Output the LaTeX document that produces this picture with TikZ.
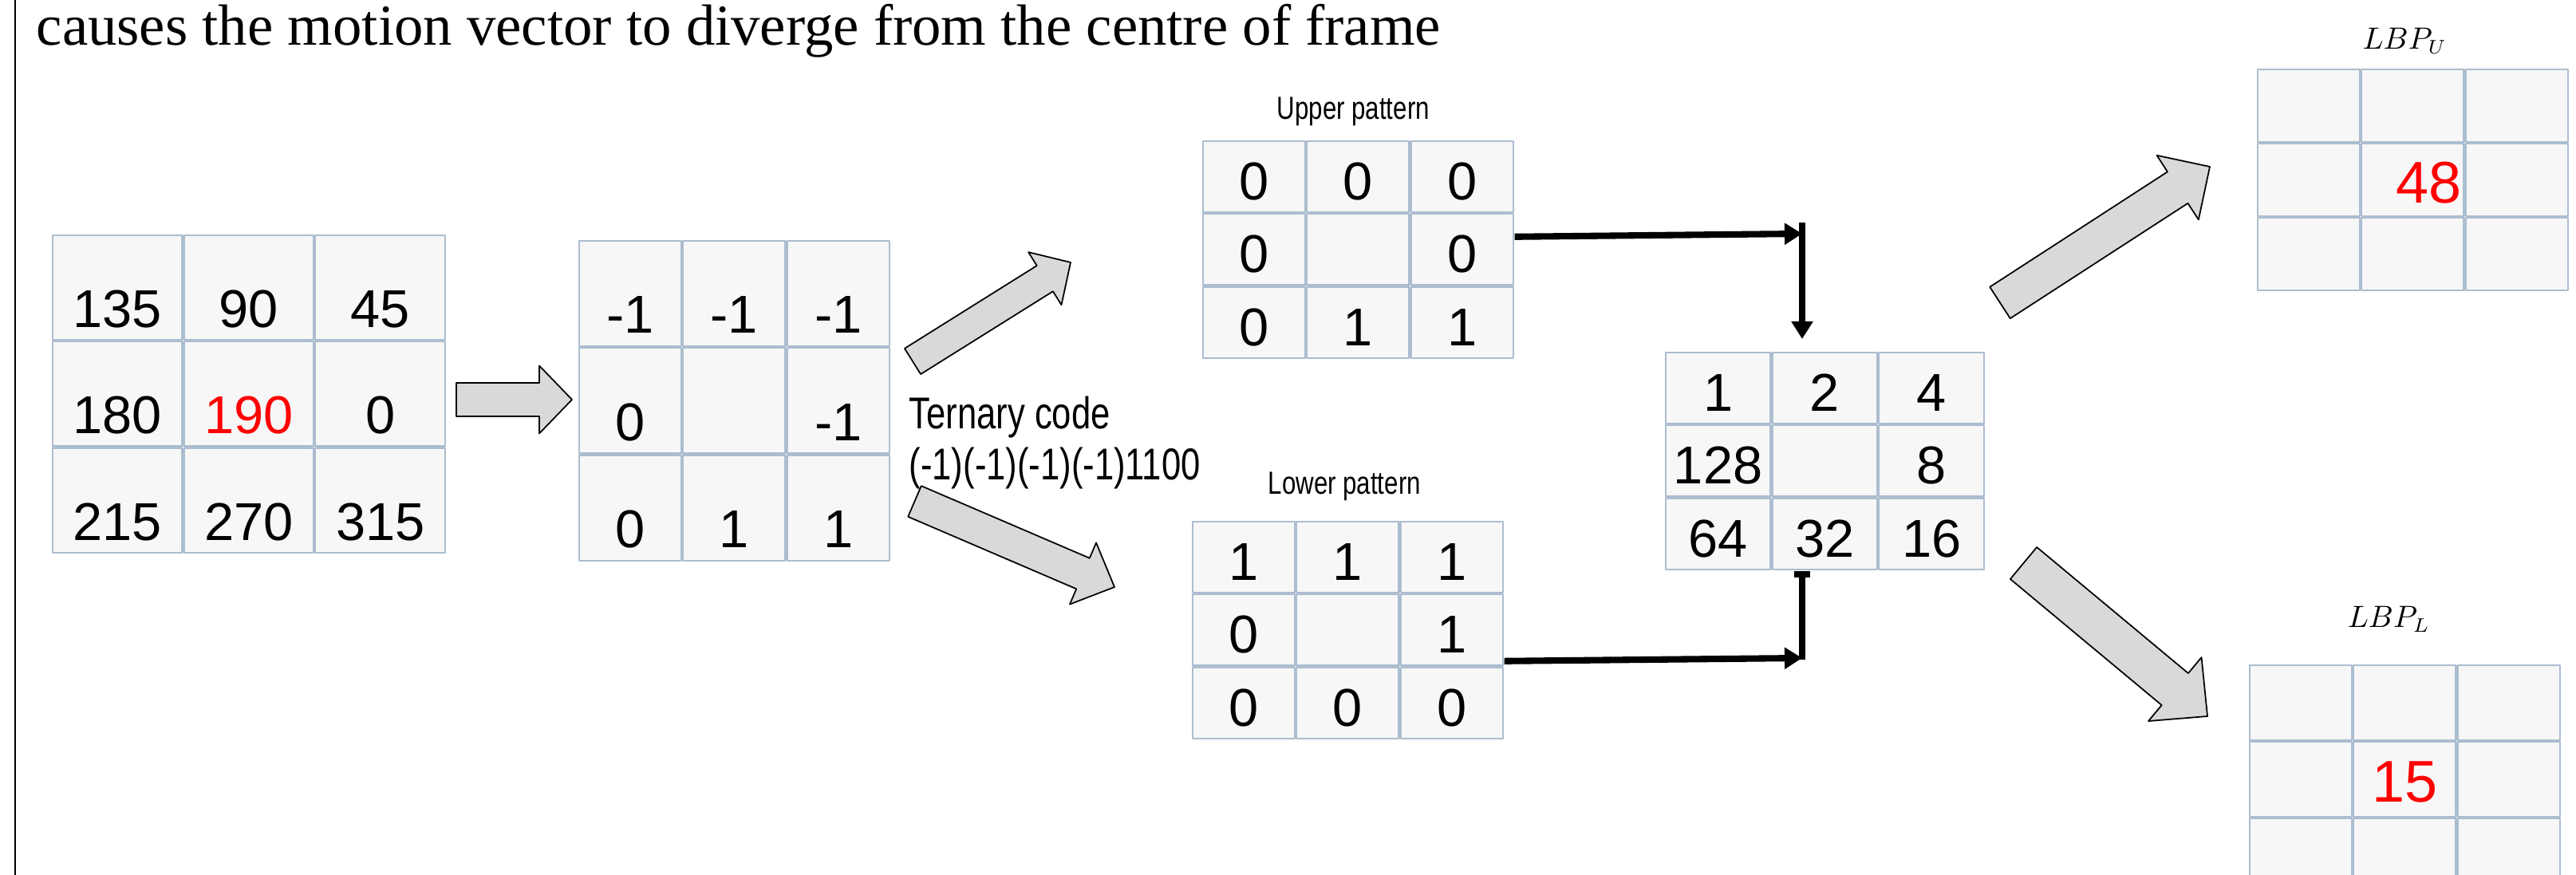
\documentclass[tikz,border=0pt]{standalone}
\usepackage{fontspec}
\setmainfont{Liberation Serif}
\newfontfamily\cellfont{Liberation Sans}
\newfontfamily\narrowfont[FakeStretch=0.78]{Liberation Sans}
\usepackage{tikz}
\usetikzlibrary{calc, matrix, arrows.meta}
\usepackage{xcolor}
\definecolor{gridline}{RGB}{172,189,208}
\definecolor{cellfill}{RGB}{247,247,247}
\definecolor{arrowfill}{RGB}{217,217,217}

% fat arrow: tail #1, tip #2, shaft half width #3, head half width #4, head length #5
\newcommand{\blockarrow}[5]{%
  \coordinate (hb) at ($(#2)!#5!(#1)$);
  \draw[blockarr] ($(#1)!#3!90:(#2)$) -- ($(hb)!#3!-90:(#1)$) -- ($(hb)!#4!-90:(#1)$) -- (#2)
    -- ($(hb)!#4!90:(#1)$) -- ($(hb)!#3!90:(#1)$) -- ($(#1)!#3!-90:(#2)$) -- cycle;
}

\begin{document}
\begin{tikzpicture}[line join=round,
    valcell/.style={draw=gridline, fill=cellfill, line width=0.6pt, inner sep=0pt, outer sep=0pt,
                    font=\cellfont\fontsize{19}{22}\selectfont, text depth=0pt, text height=0.58cm},
    valgrid/.style={matrix of nodes, nodes in empty cells, column sep=0pt, row sep=0pt,
                    inner sep=0pt, anchor=north west},
    blockarr/.style={draw=black, fill=arrowfill, line width=0.5pt},
    link/.style={line width=2.3pt, -{Triangle[length=0.22cm, width=0.26cm]}},
    lbl/.style={font=\narrowfont\fontsize{11.4}{13}\selectfont, inner sep=0pt},
    tlbl/.style={font=\narrowfont\fontsize{15.9}{19}\selectfont, inner sep=0pt}]

    % page 3229 x 1097 px, 1 cm = 100 px
    \useasboundingbox (0,0) rectangle (32.29,10.97);
    \clip (0,0) rectangle (32.29,10.97);

    % frame edge on the left and the cut-off sentence on top
    \draw[line width=0.45pt] (0.19,0) -- (0.19,10.97);
    \node[anchor=base west, font=\fontsize{20.7}{24}\selectfont, inner sep=0pt] (title) at (0.45,10.40)
        {causes the motion vector to diverge from the centre of frame};

    % motion vector angles
    \matrix (ang) [valgrid, nodes={valcell, minimum width=1.627cm, minimum height=1.313cm, text height=1.0cm}] at (0.64,8.04) {
        135 & 90 & 45 \\
        180 & |[text=red]| 190 & 0 \\
        215 & 270 & 315 \\
    };

    % ternary values
    \matrix (tern) [valgrid, nodes={valcell, minimum width=1.283cm, minimum height=1.323cm, text height=1.0cm}] at (7.24,7.97) {
        -1 & -1 & -1 \\
        0 &  & -1 \\
        0 & 1 & 1 \\
    };
    \node[tlbl, anchor=base west] (tcode) at (11.39,5.59) {Ternary code};
    \node[tlbl, anchor=base west] (tbits) at (11.39,4.95) {(-1)(-1)(-1)(-1)1100};

    % upper and lower patterns
    \matrix (upper) [valgrid, nodes={valcell, minimum width=1.283cm, minimum height=0.893cm}] at (15.06,9.22) {
        0 & 0 & 0 \\
        0 &  & 0 \\
        0 & 1 & 1 \\
    };
    \node[lbl, anchor=base] (uplbl) at ([xshift=-0.06cm, yshift=0.25cm]upper.north) {Upper pattern};

    \matrix (lower) [valgrid, nodes={valcell, minimum width=1.283cm, minimum height=0.893cm}] at (14.93,4.45) {
        1 & 1 & 1 \\
        0 &  & 1 \\
        0 & 0 & 0 \\
    };
    \node[lbl, anchor=base] (lowlbl) at ([xshift=-0.04cm, yshift=0.32cm]lower.north) {Lower pattern};

    % weights
    \matrix (weight) [valgrid, nodes={valcell, minimum width=1.317cm, minimum height=0.893cm}] at (20.86,6.57) {
        1 & 2 & 4 \\
        128 &  & 8 \\
        64 & 32 & 16 \\
    };

    % resulting codes
    \matrix (lbpu) [valgrid, nodes={valcell, minimum width=1.283cm, minimum height=0.91cm}] at (28.28,10.12) {
         &  &  \\
         & |[text=red, font=\cellfont\fontsize{21}{24}\selectfont]| \hspace*{0.4cm}48 &  \\
         &  &  \\
    };
    \node[anchor=base, font=\fontsize{10.5}{12}\selectfont] (ulbl) at ([xshift=-0.1cm, yshift=0.23cm]lbpu.north) {$LBP_U$};

    \matrix (lbpl) [valgrid, nodes={valcell, minimum width=1.283cm, minimum height=0.94cm}] at (28.18,2.65) {
         &  &  \\
         & |[text=red, font=\cellfont\fontsize{21}{24}\selectfont]| 15 &  \\
         &  &  \\
    };
    \node[anchor=base, font=\fontsize{10.5}{12}\selectfont] (llbl) at ([xshift=-0.2cm, yshift=0.45cm]lbpl.north) {$LBP_L$};

    % fat grey arrows
    \coordinate (a1s) at (5.72,5.96);   \coordinate (a1e) at (7.17,5.96);
    \coordinate (a2s) at (11.44,6.44);  \coordinate (a2e) at (13.42,7.68);
    \coordinate (a3s) at (11.465,4.685); \coordinate (a3e) at (13.97,3.61);
    \coordinate (a4s) at (25.07,7.175); \coordinate (a4e) at (27.70,8.88);
    \coordinate (a5s) at (25.365,3.91); \coordinate (a5e) at (27.67,1.99);
    \blockarrow{a1s}{a1e}{0.21cm}{0.425cm}{0.41cm}
    \blockarrow{a2s}{a2e}{0.19cm}{0.39cm}{0.38cm}
    \blockarrow{a3s}{a3e}{0.21cm}{0.42cm}{0.43cm}
    \blockarrow{a4s}{a4e}{0.235cm}{0.48cm}{0.48cm}
    \blockarrow{a5s}{a5e}{0.26cm}{0.52cm}{0.53cm}

    % patterns into the weights
    \coordinate (jU) at (22.59,8.04);
    \coordinate (jL) at (22.59,2.72);
    \draw[link] ([yshift=0.16cm]upper.east) -- (jU);
    \draw[link, shorten >=0.15cm] ([yshift=0.14cm]jU) -- (jU |- weight.north);
    \draw[link] ([yshift=-0.39cm]lower.east) -- (jL);
    \draw[line width=2.3pt, {Bar[width=0.2cm, length=0.5pt]}-] (jU |- weight.south) -- ([yshift=-0.02cm]jL);

\end{tikzpicture}
\end{document}
